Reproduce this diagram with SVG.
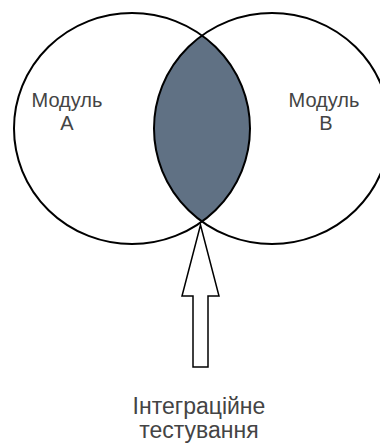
<svg xmlns="http://www.w3.org/2000/svg" width="380" height="447" viewBox="0 0 380 447">
<style>
.c{fill:none;stroke:#000;stroke-width:2}
.t{font-family:"Liberation Sans",Arial,sans-serif;fill:#444;text-anchor:middle}
</style>
<defs>
<clipPath id="clipA"><ellipse cx="132" cy="128.5" rx="118" ry="115.5"/></clipPath>
</defs>
<rect width="380" height="447" fill="#fff"/>
<g id="lens">
<ellipse cx="272" cy="128.5" rx="118" ry="115.5" fill="#607184" clip-path="url(#clipA)"/>
</g>
<g id="moduleA">
<ellipse class="c" cx="132" cy="128.5" rx="118" ry="115.5"/>
<text class="t" font-size="20" x="67" y="107">Модуль</text>
<text class="t" font-size="20" x="67" y="130">A</text>
</g>
<g id="moduleB">
<ellipse class="c" cx="272" cy="128.5" rx="118" ry="115.5"/>
<text class="t" font-size="20" x="324" y="107">Модуль</text>
<text class="t" font-size="20" x="326" y="130">B</text>
</g>
<g id="connectors">
<path d="M200.5 225 L219 296 L208 296 L208 367 L193 367 L193 296 L182 296 Z" fill="#fff" stroke="#000" stroke-width="1.5" stroke-linejoin="miter"/>
</g>
<g id="label">
<text class="t" font-size="23" x="199" y="414">Інтеграційне</text>
<text class="t" font-size="23" x="199" y="438">тестування</text>
</g>
</svg>
